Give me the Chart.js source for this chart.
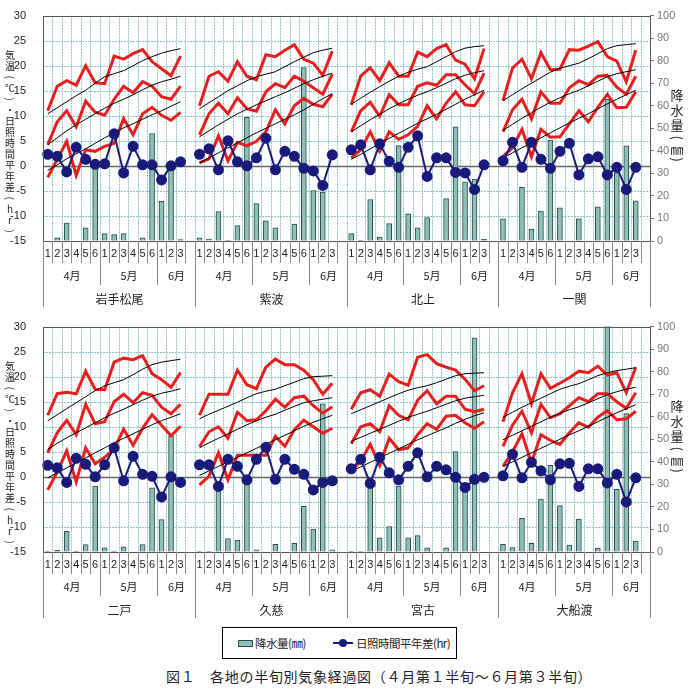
<!DOCTYPE html>
<html>
<head>
<meta charset="utf-8">
<script src="https://cdn.jsdelivr.net/npm/chart.js@4.4.1/dist/chart.umd.min.js"></script>
<style>
  body { margin:0; background:#fff; width:690px; height:692px; position:relative; overflow:hidden;
         font-family:"Noto Sans CJK JP", sans-serif; color:#222; }
  canvas { position:absolute; left:0; }
  #top { top:0; }
  #bottom { top:311px; }
  #legend { position:absolute; left:222px; top:627px; width:233px; height:30px; border:1px solid #000;
            font-size:11.5px; white-space:nowrap; }
  #legend > * { position:absolute; }
  .txt { top:7px; line-height:16px; letter-spacing:-0.5px; }
  .sw-bar { left:15px; top:12px; width:13px; height:5px; background:#8dc0b8; border:1px solid #2a4a48; }
  .sw-line { left:110px; top:14px; width:20px; height:2px; background:#1a1a7a; }
  .sw-line::after { content:""; position:absolute; left:6px; top:-3px; width:8px; height:8px; border-radius:50%; background:#1a1a7a; }
  #title { position:absolute; top:666px; left:166px; font-size:14px; letter-spacing:0.7px; white-space:nowrap; }
</style>
</head>
<body>
<canvas id="top" width="690" height="310"></canvas>
<canvas id="bottom" width="690" height="310"></canvas>

<div id="legend">
  <span class="sw-bar"></span><span class="txt" style="left:32px">降水量(㎜)</span>
  <span class="sw-line"></span><span class="txt" style="left:133px">日照時間平年差(hr)</span>
</div>
<div id="title">図１　各地の半旬別気象経過図（４月第１半旬～６月第３半旬）</div>

<script>
// stations, left to right, top row then bottom row
const stations = ["岩手松尾", "紫波", "北上", "一関", "二戸", "久慈", "宮古", "大船渡"];
const halfLabels = ["1","2","3","4","5","6","1","2","3","4","5","6","1","2","3"];
const monthLabels = ["4月", "5月", "6月"];
const leftTitle = "気温(℃)・日照時間平年差(hr)";
const rightTitle = "降水量(㎜)";

// 降水量 (mm), right axis
const rain = [
  [0, 1.4, 8.0, 0, 5.8, 33, 3.3, 2.9, 3.3, 0, 1.4, 47.7, 17.6, 32, 0.6],
  [1.4, 0.9, 13, 0.3, 6.8, 54.9, 16.6, 9.0, 5.8, 0, 7.5, 76.9, 22.4, 21.7, 0],
  [3.3, 0.3, 18.4, 1.7, 7.7, 42.3, 12.0, 5.8, 10.4, 0, 18.8, 50.6, 26.3, 27.5, 0.7],
  [9.8, 0, 23.8, 5.3, 13.3, 44.8, 14.7, 0, 9.8, 0, 15.2, 62.9, 30.3, 42.2, 17.8],
  [0.4, 0.7, 9.2, 0.4, 3.3, 29.2, 1.9, 0.4, 2.3, 0, 3.3, 28.5, 14.4, 51.4, 0],
  [0.3, 0.3, 29.2, 5.9, 5.3, 29.9, 1.0, 0, 3.4, 0, 3.9, 20.3, 10.2, 65.7, 1.0],
  [0.3, 0.3, 29.9, 6.3, 11.3, 29.2, 6.3, 7.3, 1.9, 0, 1.9, 44.5, 28.2, 95.0, 0],
  [3.4, 2.0, 14.9, 3.9, 23.5, 38.5, 20.6, 3.1, 14.6, 0, 1.7, 108, 27.8, 61.4, 4.9]
];

// 日照時間平年差 (hr)
const sunDiff = [
  [2.3, 1.9, -1.2, 3.7, 1.3, 0.3, 0.4, 6.4, -1.4, 3.9, 0.2, 0.2, -2.8, 0.0, 0.8],
  [2.3, 3.4, -0.8, 5.0, 0.8, 0.0, 1.6, 5.5, -0.8, 2.9, 1.9, -0.5, -1.0, -3.9, 2.2],
  [3.2, 4.2, -0.8, 4.4, 0.9, -0.3, 3.7, 6.0, -2.1, 1.6, 1.6, -1.3, -1.4, -4.7, 0.2],
  [1.0, 4.7, -0.3, 4.7, 1.3, -0.5, 2.9, 4.5, -1.8, 1.4, 1.8, -1.8, -0.3, -4.7, -0.3],
  [2.3, 1.8, -1.1, 3.7, 2.5, 0.0, 2.4, 5.8, -0.8, 4.1, 0.5, 0.1, -4.0, 0.0, -1.1],
  [2.4, 2.4, -1.9, 3.5, 2.1, -0.6, 3.5, 5.9, -0.5, 3.5, 1.5, 0.5, -2.6, -1.1, -0.8],
  [1.6, 3.5, -1.3, 3.9, 0.8, -0.6, 2.1, 4.8, 0.0, 2.1, 1.4, -0.1, -2.1, -0.5, -0.1],
  [0.2, 4.5, -0.2, 2.9, 1.2, -0.6, 2.6, 2.7, -1.9, 1.6, 1.6, -1.2, 0.5, -5.0, -0.2]
];

// 最高・平均・最低気温 (℃)
const tMax = [
  [11.0, 15.9, 17.0, 16.1, 20.0, 16.6, 16.4, 21.9, 21.3, 22.4, 23.2, 20.8, 19.4, 18.0, 21.9],
  [12.0, 17.9, 18.8, 16.9, 20.8, 17.9, 17.2, 22.2, 21.8, 23.1, 24.2, 21.3, 20.5, 18.1, 22.9],
  [12.2, 17.9, 19.6, 17.0, 20.6, 17.9, 17.9, 22.7, 21.8, 23.4, 24.2, 21.1, 20.3, 17.4, 23.4],
  [13.0, 19.5, 21.3, 17.4, 22.6, 19.2, 19.3, 23.2, 23.1, 23.9, 24.8, 21.8, 20.9, 16.8, 23.1],
  [12.3, 16.6, 16.9, 16.6, 21.1, 17.5, 17.4, 22.9, 23.7, 23.4, 24.2, 20.6, 19.4, 17.9, 20.8],
  [12.3, 16.5, 16.5, 16.5, 21.3, 18.4, 17.6, 21.9, 23.5, 22.4, 22.4, 21.3, 19.4, 16.5, 18.7],
  [13.5, 16.8, 17.4, 16.1, 20.5, 19.0, 18.3, 23.9, 24.4, 22.6, 21.9, 21.3, 19.5, 17.2, 18.2],
  [11.0, 16.8, 20.6, 14.6, 20.6, 17.7, 18.7, 19.8, 21.1, 20.8, 22.1, 20.3, 20.8, 16.8, 21.9]
];
const tMean = [
  [4.2, 8.8, 11.0, 7.8, 12.9, 10.7, 10.1, 13.3, 15.9, 14.6, 16.8, 15.9, 13.8, 13.3, 15.9],
  [6.2, 10.4, 12.5, 10.4, 13.6, 11.4, 10.9, 14.8, 16.4, 15.6, 17.9, 16.9, 15.6, 14.3, 18.3],
  [6.8, 11.0, 12.7, 9.9, 14.2, 12.2, 12.2, 15.9, 16.6, 16.1, 18.2, 18.2, 16.2, 14.4, 18.5],
  [6.8, 11.2, 13.3, 9.4, 14.8, 12.5, 12.5, 15.6, 17.0, 16.2, 17.9, 18.1, 15.7, 14.3, 17.9],
  [4.8, 8.8, 11.3, 8.4, 14.5, 10.6, 11.0, 15.0, 16.5, 14.8, 16.8, 16.3, 13.9, 12.6, 14.5],
  [6.0, 9.0, 10.0, 7.7, 12.9, 11.2, 11.4, 13.2, 15.5, 13.9, 15.8, 16.1, 14.2, 12.7, 14.0],
  [6.6, 10.0, 10.6, 9.0, 14.2, 12.3, 11.4, 15.3, 17.2, 14.6, 16.1, 16.1, 13.5, 13.0, 13.5],
  [6.1, 10.3, 13.1, 8.8, 14.5, 11.8, 12.6, 14.2, 15.8, 15.0, 16.6, 16.6, 15.0, 13.7, 16.8]
];
const tMin = [
  [-2.3, 1.3, 4.9, -1.9, 3.2, 2.9, 3.9, 4.5, 9.4, 6.2, 10.4, 11.7, 10.1, 9.1, 10.7],
  [0.6, 1.4, 6.0, 1.0, 4.7, 4.0, 4.9, 6.8, 11.2, 8.4, 12.0, 13.5, 12.3, 11.8, 14.3],
  [1.6, 3.2, 6.8, 2.9, 6.8, 5.3, 6.2, 7.9, 12.0, 9.4, 12.5, 14.8, 12.2, 12.0, 14.8],
  [1.9, 3.6, 7.3, 1.8, 7.3, 5.7, 5.8, 8.4, 11.0, 8.8, 11.7, 14.3, 11.6, 11.7, 14.8],
  [-2.6, 1.0, 5.2, -1.0, 5.8, 2.6, 3.9, 5.6, 9.5, 6.3, 9.7, 12.4, 10.3, 8.2, 10.1],
  [-1.6, 0.1, 4.8, -0.6, 4.3, 4.3, 4.3, 4.3, 8.1, 6.1, 9.4, 11.3, 10.0, 8.7, 9.7],
  [1.1, 3.2, 6.5, 2.3, 7.7, 5.4, 5.8, 8.4, 10.6, 9.5, 12.1, 12.3, 10.8, 9.7, 11.0],
  [2.1, 5.0, 8.6, 2.8, 8.4, 7.3, 6.5, 8.8, 10.8, 9.9, 11.9, 13.2, 11.4, 11.6, 13.1]
];

// 平年値 (最高・平均・最低)
const nMax = [
  [10.4, 11.6, 12.8, 14.0, 15.1, 16.5, 17.8, 18.4, 19.0, 20.0, 21.0, 21.8, 22.5, 23.0, 23.4],
  [11.4, 12.6, 13.8, 15.0, 16.0, 17.0, 17.8, 18.3, 18.8, 19.8, 20.8, 21.7, 22.6, 23.1, 23.5],
  [12.3, 13.5, 14.7, 15.8, 16.9, 17.9, 18.7, 19.3, 19.8, 20.8, 21.8, 22.8, 23.5, 23.8, 24.0],
  [13.0, 14.2, 15.4, 16.5, 17.6, 18.7, 19.5, 20.0, 20.5, 21.4, 22.4, 23.4, 24.0, 24.2, 24.4],
  [11.2, 12.4, 13.6, 14.8, 16.0, 17.2, 18.2, 18.8, 19.4, 20.4, 21.5, 22.4, 22.9, 23.2, 23.5],
  [11.6, 12.5, 13.3, 14.1, 14.9, 15.8, 16.6, 17.1, 17.5, 18.2, 18.9, 19.6, 20.0, 20.1, 20.2],
  [12.6, 13.4, 14.2, 15.0, 15.8, 16.6, 17.3, 17.8, 18.2, 18.8, 19.5, 20.2, 20.6, 20.7, 20.8],
  [11.9, 12.9, 13.9, 14.8, 15.7, 16.6, 17.5, 18.1, 18.6, 19.4, 20.2, 20.8, 21.2, 21.5, 21.8]
];
const nMean = [
  [4.2, 5.6, 7.0, 8.2, 9.3, 10.4, 11.5, 12.5, 13.3, 14.2, 15.2, 16.1, 16.8, 17.3, 17.9],
  [5.8, 7.0, 8.2, 9.3, 10.4, 11.3, 12.2, 13.0, 13.8, 14.6, 15.5, 16.4, 17.2, 17.9, 18.5],
  [6.8, 8.0, 9.2, 10.3, 11.4, 12.4, 13.3, 14.1, 14.8, 15.6, 16.5, 17.4, 18.1, 18.6, 19.0],
  [7.1, 8.3, 9.5, 10.6, 11.7, 12.7, 13.6, 14.4, 15.1, 16.0, 16.9, 17.8, 18.4, 18.8, 19.2],
  [5.5, 6.7, 7.8, 8.8, 9.8, 10.8, 11.8, 12.7, 13.5, 14.4, 15.3, 16.1, 16.7, 17.1, 17.6],
  [5.8, 6.8, 7.7, 8.6, 9.5, 10.4, 11.2, 11.9, 12.5, 13.3, 14.1, 14.8, 15.2, 15.5, 15.8],
  [7.1, 7.9, 8.7, 9.5, 10.3, 11.1, 11.9, 12.5, 13.1, 13.8, 14.5, 15.2, 15.7, 16.0, 16.3],
  [7.4, 8.3, 9.2, 10.1, 11.0, 11.9, 12.7, 13.4, 14.0, 14.8, 15.6, 16.4, 17.0, 17.5, 17.9]
];
const nMin = [
  [-0.9, 0.2, 1.4, 2.4, 3.4, 4.5, 5.6, 6.6, 7.6, 8.4, 9.3, 10.2, 11.0, 11.9, 12.8],
  [0.6, 1.6, 2.6, 3.6, 4.6, 5.6, 6.6, 7.5, 8.4, 9.3, 10.2, 11.2, 12.3, 13.4, 14.4],
  [1.3, 2.3, 3.4, 4.5, 5.5, 6.5, 7.5, 8.5, 9.4, 10.3, 11.3, 12.3, 13.3, 14.2, 15.1],
  [1.6, 2.6, 3.6, 4.6, 5.6, 6.6, 7.6, 8.6, 9.5, 10.4, 11.4, 12.4, 13.3, 14.2, 15.1],
  [-0.2, 0.8, 1.8, 2.8, 3.8, 4.8, 5.8, 6.8, 7.7, 8.6, 9.5, 10.4, 11.2, 11.9, 12.6],
  [0.3, 1.2, 2.1, 3.0, 3.9, 4.8, 5.7, 6.6, 7.4, 8.3, 9.2, 10.1, 10.9, 11.6, 12.3],
  [1.1, 2.0, 2.9, 3.8, 4.7, 5.6, 6.5, 7.4, 8.2, 9.0, 9.8, 10.7, 11.5, 12.2, 12.8],
  [2.1, 3.0, 3.9, 4.8, 5.7, 6.6, 7.5, 8.4, 9.2, 10.1, 11.0, 11.9, 12.8, 13.6, 14.4]
];

const RED = "#e61e1e";
const NAVY = "#1a1a7a";
const GRID = "#88c6c6";
const SLOT = 16; // 15 half-months + 1 empty slot per station
const JP = "'Noto Sans CJK JP', sans-serif";

// four stations side by side, an empty slot after each so the lines break
function rowSeries(src, first) {
  const out = [];
  for (let k = first; k < first + 4; k++) out.push(...src[k], null);
  return out;
}

const rowLabels = [];
for (let k = 0; k < 4; k++) rowLabels.push(...halfLabels, "");

// one character under another, brackets turned like in vertical writing
function drawVertical(ctx, text, cx, cy, size, step) {
  ctx.font = size + "px " + JP;
  ctx.textAlign = "center";
  ctx.textBaseline = "middle";
  for (const ch of text) {
    const st = step(ch);
    const y = cy + st / 2;
    if (ch === "(" || ch === ")") {
      ctx.save();
      ctx.translate(cx, y);
      ctx.rotate(Math.PI / 2);
      ctx.fillText(ch, 0, 0);
      ctx.restore();
    } else {
      ctx.fillText(ch, cx, y);
    }
    cy += st;
  }
}

// grid, frame, axis titles and the 3-level category labels under the plot
const panelDeco = {
  id: "panelDeco",
  beforeDatasetsDraw(chart) {
    const { ctx, chartArea: a, scales: { x, y } } = chart;
    const w = x.getPixelForValue(1) - x.getPixelForValue(0);
    ctx.save();
    ctx.lineWidth = 1;
    ctx.strokeStyle = GRID;
    ctx.setLineDash([2, 1]);
    for (let v = -10; v < 30; v += 5) {
      if (v === 0) continue;
      const py = Math.round(y.getPixelForValue(v)) + 0.5;
      ctx.beginPath(); ctx.moveTo(a.left, py); ctx.lineTo(a.right, py); ctx.stroke();
    }
    for (let j = 1; j < 4 * SLOT; j++) {
      const px = Math.round(x.getPixelForValue(j) - w / 2) + 0.5;
      ctx.beginPath(); ctx.moveTo(px, a.top); ctx.lineTo(px, a.bottom); ctx.stroke();
    }
    ctx.setLineDash([]);
    const zy = Math.round(y.getPixelForValue(0)) + 0.5;
    ctx.strokeStyle = "#666";
    ctx.lineWidth = 1.5;
    ctx.beginPath(); ctx.moveTo(a.left, zy); ctx.lineTo(a.right, zy); ctx.stroke();
    ctx.restore();
  },
  afterDraw(chart, args, opts) {
    const { ctx, chartArea: a, scales: { x } } = chart;
    const w = x.getPixelForValue(1) - x.getPixelForValue(0);
    const edge = j => Math.round(x.getPixelForValue(j) - w / 2) + 0.5;
    const b = Math.round(a.bottom);
    ctx.save();
    // frame
    ctx.strokeStyle = "#555";
    ctx.lineWidth = 1;
    ctx.strokeRect(Math.round(a.left) + 0.5, Math.round(a.top) + 0.5, Math.round(a.right - a.left), Math.round(a.bottom - a.top));
    // separators
    ctx.strokeStyle = "#888";
    for (let j = 0; j <= 4 * SLOT; j++) {
      const s = j % SLOT;
      let len = 22;
      if (s === 0) len = 66;
      else if (s === 6 || s === 12) len = 44;
      ctx.beginPath(); ctx.moveTo(edge(j), b); ctx.lineTo(edge(j), b + len); ctx.stroke();
    }
    ctx.fillStyle = "#222";
    ctx.textAlign = "center";
    ctx.textBaseline = "middle";
    for (let k = 0; k < 4; k++) {
      const base = k * SLOT;
      ctx.font = "11px 'Liberation Sans', sans-serif";
      halfLabels.forEach((t, i) => ctx.fillText(t, x.getPixelForValue(base + i), b + 13));
      ctx.font = "11px " + JP;
      const spans = [[0, 6], [6, 12], [12, 16]];
      spans.forEach(([s, e], m) => {
        const cx = (edge(base + s) + edge(base + e)) / 2;
        ctx.fillText(monthLabels[m], cx, b + 35);
      });
      ctx.font = "12px " + JP;
      ctx.fillText(opts.names[k], (edge(base) + edge(base + SLOT)) / 2, b + 58);
    }
    // axis titles
    drawVertical(ctx, leftTitle, 10, a.top + 34, 10, () => 11);
    drawVertical(ctx, rightTitle, 677, a.top + 72, 13,
      ch => (ch === "(" || ch === ")") ? 10 : (ch === "㎜" ? 12 : 15));
    ctx.restore();
  }
};

function makeChart(id, first) {
  const lineSet = (src, color, width) => ({
    type: "line", data: rowSeries(src, first), yAxisID: "y",
    borderColor: color, borderWidth: width, pointRadius: 0, order: 3
  });
  const datasets = [
    { type: "bar", label: "降水量(㎜)", data: rowSeries(rain, first), yAxisID: "y1",
      backgroundColor: "#8dc0b8", borderColor: "#2a4a48", borderWidth: 1, barThickness: 5, order: 10 },
    lineSet(nMax, "#000", 1), lineSet(nMean, "#000", 1), lineSet(nMin, "#000", 1),
    lineSet(tMax, RED, 3), lineSet(tMean, RED, 3), lineSet(tMin, RED, 3),
    { type: "line", label: "日照時間平年差(hr)", data: rowSeries(sunDiff, first), yAxisID: "y",
      borderColor: NAVY, borderWidth: 2, pointRadius: 4.5, pointBackgroundColor: NAVY,
      pointBorderColor: NAVY, order: 1 }
  ];
  return new Chart(document.getElementById(id).getContext("2d"), {
    type: "bar",
    data: { labels: rowLabels, datasets },
    options: {
      responsive: false,
      animation: false,
      devicePixelRatio: 1,
      layout: { padding: { top: 9 } },
      plugins: {
        legend: { display: false },
        tooltip: { enabled: false },
        panelDeco: { names: stations.slice(first, first + 4) }
      },
      scales: {
        x: {
          offset: true,
          ticks: { display: false },
          grid: { display: false },
          border: { display: false },
          afterFit(s) { s.height = 69; }
        },
        y: {
          position: "left",
          min: -15, max: 30,
          ticks: { stepSize: 5, padding: 9, color: "#222", font: { size: 11, family: "'Liberation Sans', sans-serif" } },
          grid: { display: false },
          border: { display: false },
          afterFit(s) { s.width = 43; }
        },
        y1: {
          position: "right",
          min: 0, max: 100,
          ticks: { stepSize: 10, padding: 3, color: "#777", font: { size: 11, family: "'Liberation Sans', sans-serif" } },
          grid: { drawOnChartArea: false, drawTicks: true, tickLength: 4, color: "#777" },
          border: { display: false },
          afterFit(s) { s.width = 40; }
        }
      }
    },
    plugins: [panelDeco]
  });
}

makeChart("top", 0);
makeChart("bottom", 4);
</script>
</body>
</html>
